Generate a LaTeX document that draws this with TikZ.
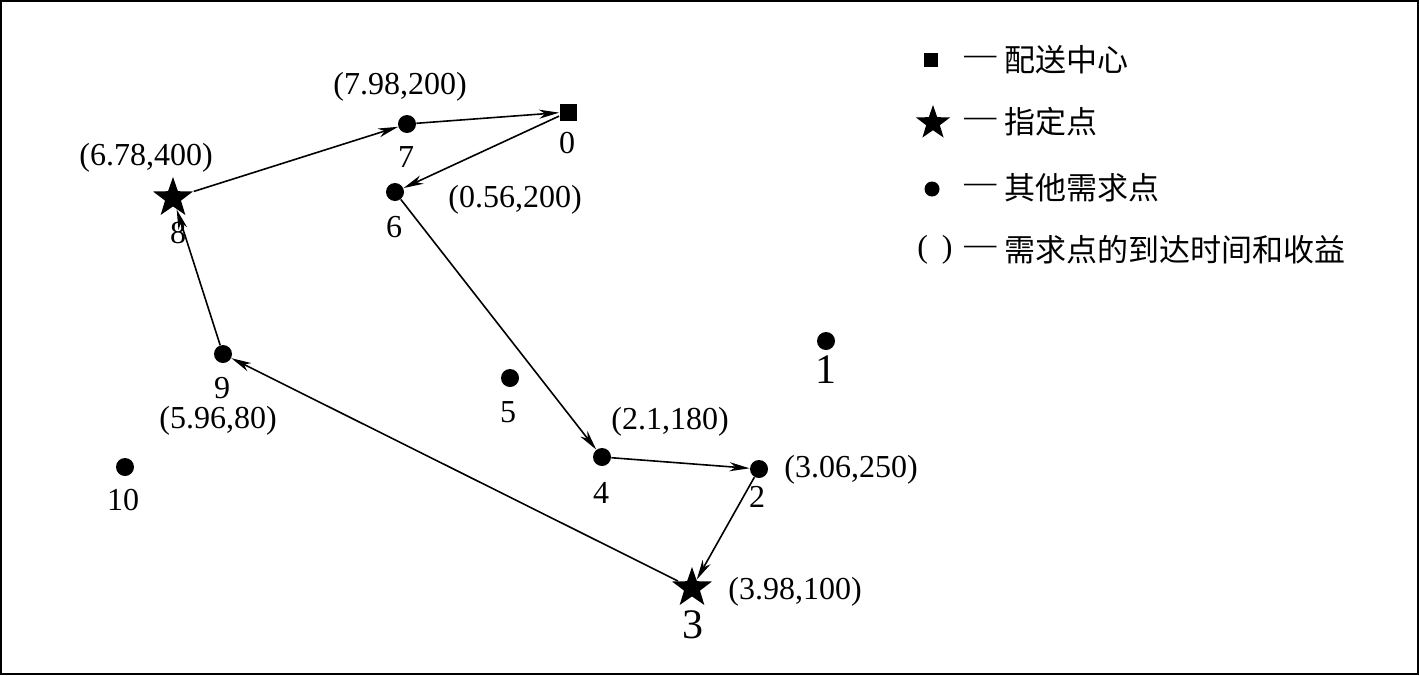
\documentclass[tikz,border=0pt]{standalone}
\usepackage{fontspec}
\setmainfont{Liberation Serif}
\newfontfamily\cjk{Noto Sans CJK SC}
\usetikzlibrary{shapes.geometric,arrows.meta}
\begin{document}
\begin{tikzpicture}[x=0.5pt,y=-0.5pt,
  dotnode/.style={circle,fill=black,inner sep=0pt,minimum size=9pt},
  sqnode/.style={rectangle,fill=black,inner sep=0pt,minimum size=8.5pt},
  starnode/.style={star,star points=5,star point ratio=2.5,fill=black,inner sep=0pt,minimum size=21pt},
  lbl/.style={font=\fontsize{16}{18}\selectfont,inner sep=0pt},
  biglbl/.style={font=\fontsize{21}{24}\selectfont,inner sep=0pt},
  leg/.style={font=\cjk\fontsize{15.5}{18}\selectfont,inner sep=0pt,anchor=west},
  route/.style={line width=0.8pt,-{Stealth[length=10pt,width=4.5pt,inset=3pt]}}]
\useasboundingbox (0,0) rectangle (1419,675);
\draw[line width=1pt] (1,1) rectangle (1418,674);
% nodes
\node[sqnode] (n0) at (568,112) {};
\node[dotnode] (n7) at (407,124) {};
\node[dotnode] (n6) at (395,192) {};
\node[starnode] (n8) at (173,198) {};
\node[dotnode] (n9) at (223,354) {};
\node[dotnode] (n5) at (510,378) {};
\node[dotnode] (n10) at (125,467) {};
\node[dotnode] (n4) at (602,457) {};
\node[dotnode] (n2) at (759,469) {};
\node[starnode] (n3) at (692,588) {};
\node[dotnode] (n1) at (826,341) {};
% number labels
\node[lbl] (l0) at (567,143) {0};
\node[lbl] (l7) at (406,157) {7};
\node[lbl] (l6) at (394,227) {6};
\node[lbl] (l8) at (178,233) {8};
\node[lbl] (l9) at (222,388) {9};
\node[lbl] (l5) at (508,412) {5};
\node[lbl] (l10) at (123,500) {10};
\node[lbl] (l4) at (601,493) {4};
\node[lbl] (l2) at (757,497) {2};
\node[biglbl] (l3) at (693,625) {3};
\node[biglbl] (l1) at (826,370) {1};
% value labels
\node[lbl] (v7) at (400,87) {(7.98,200)};
\node[lbl] (v6) at (515,200) {(0.56,200)};
\node[lbl] (v8) at (146,158) {(6.78,400)};
\node[lbl] (v9) at (218,421) {(5.96,80)};
\node[lbl] (v4) at (670,422) {(2.1,180)};
\node[lbl] (v2) at (851,470) {(3.06,250)};
\node[lbl] (v3) at (795,592) {(3.98,100)};
% route
\draw[route] (n0) -- (n6);
\draw[route] (n6) -- (n4);
\draw[route] (n4) -- (n2);
\draw[route] (n2) -- (n3);
\draw[route] (n3) -- (n9);
\draw[route] (n9) -- (n8);
\draw[route] (n8) -- (n7);
\draw[route] (n7) -- (n0);
% legend
\node[sqnode,minimum size=7pt] (k1) at (931,60) {};
\node[starnode,minimum size=18pt] (k2) at (933,123) {};
\node[dotnode,minimum size=7.5pt] (k3) at (932,189) {};
\node[lbl] (k4) at (935,250) {(\hspace{7pt})};
\node[lbl,anchor=west] (d1) at (964,60) {—};
\node[lbl,anchor=west] (d2) at (964,122) {—};
\node[lbl,anchor=west] (d3) at (964,188) {—};
\node[lbl,anchor=west] (d4) at (964,250) {—};
\node[leg] (t1) at (1004,60) {配送中心};
\node[leg] (t2) at (1004,122) {指定点};
\node[leg] (t3) at (1004,188) {其他需求点};
\node[leg] (t4) at (1004,250) {需求点的到达时间和收益};
\end{tikzpicture}
\end{document}
